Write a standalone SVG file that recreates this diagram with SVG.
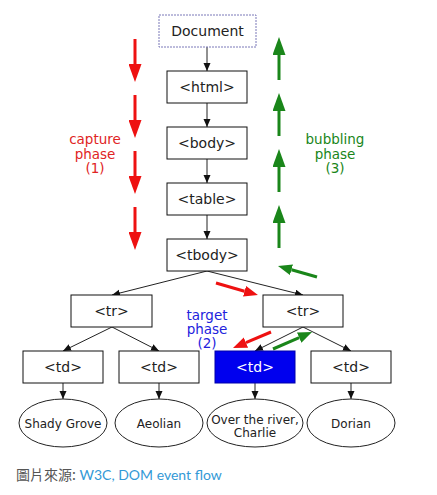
<svg xmlns="http://www.w3.org/2000/svg" width="437" height="495" viewBox="0 0 437 495">
<style>
.box{fill:#fff;stroke:#111;stroke-width:1}
.doc{fill:#fff;stroke:#7a78b8;stroke-width:1;stroke-dasharray:2 1}
.lbl{font-family:"DejaVu Sans",sans-serif;font-size:14px;fill:#222;text-anchor:middle}
.elbl{font-family:"DejaVu Sans",sans-serif;font-size:12px;fill:#222;text-anchor:middle}
.ell{fill:#fff;stroke:#222;stroke-width:1}
.con{stroke:#222;stroke-width:1;fill:none;marker-end:url(#ah)}
.red{stroke:#ee1111;stroke-width:3;fill:none}
.grn{stroke:#1a861a;stroke-width:3;fill:none}
.rv{marker-end:url(#rh)}
.gv{marker-end:url(#gh)}
.rd{marker-end:url(#rdh)}
.gd{marker-end:url(#gdh)}
.ph{font-family:"DejaVu Sans",sans-serif;font-size:13.5px;text-anchor:middle}
</style>
<defs>
<marker id="ah" markerUnits="userSpaceOnUse" markerWidth="9" markerHeight="8" refX="8" refY="3.5" orient="auto"><path d="M0,0 L8,3.5 L0,7 z" fill="#111"/></marker>
<marker id="rh" markerUnits="userSpaceOnUse" markerWidth="19" markerHeight="13" refX="0" refY="6.5" orient="auto"><path d="M0,0 L18,6.5 L0,13 z" fill="#ee1111"/></marker>
<marker id="gh" markerUnits="userSpaceOnUse" markerWidth="19" markerHeight="13" refX="0" refY="6.5" orient="auto"><path d="M0,0 L18,6.5 L0,13 z" fill="#1a861a"/></marker>
<marker id="rdh" markerUnits="userSpaceOnUse" markerWidth="15" markerHeight="12" refX="0" refY="5.5" orient="auto"><path d="M0,0 L14,5.5 L0,11 z" fill="#ee1111"/></marker>
<marker id="gdh" markerUnits="userSpaceOnUse" markerWidth="15" markerHeight="12" refX="0" refY="5.5" orient="auto"><path d="M0,0 L14,5.5 L0,11 z" fill="#1a861a"/></marker>
</defs>
<rect width="437" height="495" fill="#fff"/>
<g id="connectors">
<line class="con" x1="207" y1="47" x2="207" y2="71"/>
<line class="con" x1="207" y1="103" x2="207" y2="127"/>
<line class="con" x1="207" y1="159" x2="207" y2="183"/>
<line class="con" x1="207" y1="215" x2="207" y2="239"/>
<line class="con" x1="207" y1="271" x2="112" y2="295"/>
<line class="con" x1="207" y1="271" x2="303" y2="295"/>
<line class="con" x1="112" y1="327" x2="63" y2="351"/>
<line class="con" x1="112" y1="327" x2="159" y2="351"/>
<line class="con" x1="303" y1="327" x2="255" y2="351"/>
<line class="con" x1="303" y1="327" x2="351" y2="351"/>
<line class="con" x1="63" y1="383" x2="63" y2="399"/>
<line class="con" x1="159" y1="383" x2="159" y2="399"/>
<line class="con" x1="255" y1="383" x2="255" y2="399"/>
<line class="con" x1="351" y1="383" x2="351" y2="399"/>
</g>
<g id="phase-arrows">
<line class="red rv" x1="135" y1="39" x2="135" y2="64"/>
<line class="red rv" x1="135" y1="95" x2="135" y2="120"/>
<line class="red rv" x1="135" y1="151" x2="135" y2="176"/>
<line class="red rv" x1="135" y1="207" x2="135" y2="232"/>
<line class="grn gv" x1="279" y1="80" x2="279" y2="55"/>
<line class="grn gv" x1="279" y1="136" x2="279" y2="111"/>
<line class="grn gv" x1="279" y1="192" x2="279" y2="167"/>
<line class="grn gv" x1="279" y1="248" x2="279" y2="223"/>
<line class="grn gd" x1="317" y1="277" x2="291.5" y2="269.8"/>
<line class="red rd" x1="216" y1="283" x2="244.5" y2="291.2"/>
<line class="red rd" x1="271" y1="332" x2="245.9" y2="342.6"/>
<line class="grn gd" x1="273" y1="349" x2="299.2" y2="337.6"/>
</g>
<g id="document"><rect class="doc" x="159" y="15" width="97" height="32"/><text class="lbl" x="207.5" y="36">Document</text></g>
<g id="html"><rect class="box" x="167" y="71" width="80" height="32"/><text class="lbl" x="207" y="92">&lt;html&gt;</text></g>
<g id="body"><rect class="box" x="167" y="127" width="80" height="32"/><text class="lbl" x="207" y="148">&lt;body&gt;</text></g>
<g id="table"><rect class="box" x="167" y="183" width="80" height="32"/><text class="lbl" x="207" y="204">&lt;table&gt;</text></g>
<g id="tbody"><rect class="box" x="167" y="239" width="80" height="32"/><text class="lbl" x="207" y="260">&lt;tbody&gt;</text></g>
<g id="tr1"><rect class="box" x="71" y="295" width="81" height="32"/><text class="lbl" x="111.5" y="316">&lt;tr&gt;</text></g>
<g id="tr2"><rect class="box" x="263" y="295" width="80" height="32"/><text class="lbl" x="303" y="316">&lt;tr&gt;</text></g>
<g id="td1"><rect class="box" x="23" y="351" width="80" height="32"/><text class="lbl" x="63" y="372">&lt;td&gt;</text></g>
<g id="td2"><rect class="box" x="119" y="351" width="80" height="32"/><text class="lbl" x="159" y="372">&lt;td&gt;</text></g>
<g id="td3"><rect x="215" y="351" width="80" height="32" fill="#0000ee" stroke="#0000aa"/><text class="lbl" x="255" y="372" style="fill:#fff">&lt;td&gt;</text></g>
<g id="td4"><rect class="box" x="311" y="351" width="80" height="32"/><text class="lbl" x="351" y="372">&lt;td&gt;</text></g>
<g id="e1"><ellipse class="ell" cx="63" cy="423" rx="44" ry="24"/><text class="elbl" x="63" y="428">Shady Grove</text></g>
<g id="e2"><ellipse class="ell" cx="159" cy="423" rx="44" ry="24"/><text class="elbl" x="159" y="428">Aeolian</text></g>
<g id="e3"><ellipse class="ell" cx="255" cy="423" rx="48" ry="24"/><text class="elbl" x="255" y="424">Over the river,</text><text class="elbl" x="255" y="437">Charlie</text></g>
<g id="e4"><ellipse class="ell" cx="351" cy="423" rx="44" ry="24"/><text class="elbl" x="351" y="428">Dorian</text></g>
<g id="capture-label"><text class="ph" x="95" y="144" fill="#e02424">capture</text><text class="ph" x="95" y="159" fill="#e02424">phase</text><text class="ph" x="95" y="173" fill="#e02424">(1)</text></g>
<g id="bubbling-label"><text class="ph" x="335" y="144" fill="#1a861a">bubbling</text><text class="ph" x="335" y="159" fill="#1a861a">phase</text><text class="ph" x="335" y="173" fill="#1a861a">(3)</text></g>
<g id="target-label"><text class="ph" x="207" y="320" fill="#2222dd">target</text><text class="ph" x="207" y="334" fill="#2222dd">phase</text><text class="ph" x="207" y="348" fill="#2222dd">(2)</text></g>
<g id="caption"><text x="16" y="480" font-family="'Noto Sans CJK TC',sans-serif" font-size="14" fill="#555">圖片來源:<tspan font-family="Lato,sans-serif" font-size="14" fill="#3399d6"> W3C, DOM event flow</tspan></text></g>
</svg>
